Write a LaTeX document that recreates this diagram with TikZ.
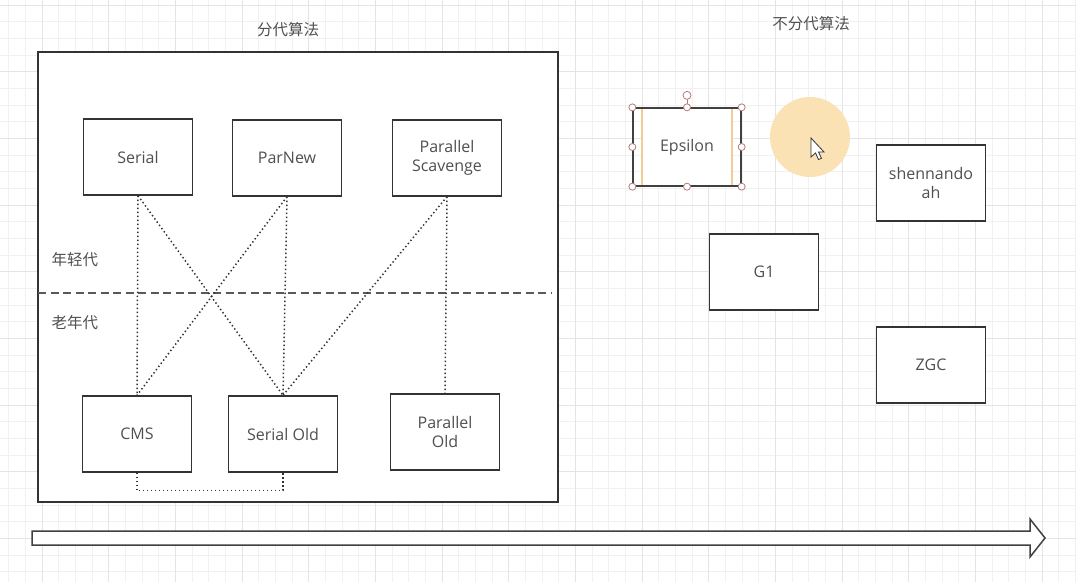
\documentclass[tikz,border=0pt]{standalone}
\usepackage{fontspec}
\setmainfont{Open Sans}
\newfontfamily\cjk{Noto Sans CJK SC}
\usetikzlibrary{positioning}

\definecolor{txt}{HTML}{505050}
\definecolor{gridminor}{HTML}{F1F1F1}
\definecolor{gridmajor}{HTML}{E4E4E4}
\definecolor{hover}{HTML}{F2CC96}
\definecolor{cursorbg}{HTML}{FBE2B4}
\definecolor{knob}{HTML}{B47C7C}

\tikzset{
	gc/.style={draw=black!80, line width=1.3pt, fill=white, minimum width=109pt,
		minimum height=76pt, align=center, text=txt, font=\fontsize{16}{18.5}\selectfont},
	link/.style={black!80, line width=1.5pt, dash pattern=on 1.4pt off 2.6pt},
	cntext/.style={text=txt, font=\cjk\fontsize{15.5}{17}\selectfont},
	knobdot/.style={circle, draw=knob, fill=white, line width=0.8pt, inner sep=0pt, minimum size=7pt}
}

\begin{document}
\begin{tikzpicture}[x=1pt,y=-1pt]
	\useasboundingbox (0,0) rectangle (1076,582);
	\fill[white] (0,0) rectangle (1076,582);

	% grid
	\foreach \i in {0,...,64}
		\draw[gridminor] (8.4+16.667*\i,0) -- (8.4+16.667*\i,582);
	\foreach \i in {0,...,34}
		\draw[gridminor] (0,5+16.667*\i) -- (1076,5+16.667*\i);
	\foreach \i in {0,...,16}
		\draw[gridmajor] (41.7+66.667*\i,0) -- (41.7+66.667*\i,582);
	\foreach \i in {0,...,8}
		\draw[gridmajor] (0,5+66.667*\i) -- (1076,5+66.667*\i);

	% generational
	\node[cntext] (gentitle) at (288,30) {分代算法};
	\draw[black!80, line width=1.3pt, fill=white] (38,52) rectangle (558,502);
	\draw[black!65, line width=2pt, dash pattern=on 8pt off 4.5pt] (38,293) -- (552,293);
	\node[cntext, anchor=west] (young) at (48,260) {年轻代};
	\node[cntext, anchor=west] (old) at (48,323) {老年代};

	\node[gc] (serial)    at (138,157) {Serial};
	\node[gc] (parnew)    at (287,158) {ParNew};
	\node[gc] (parscav)   at (447,158) {Parallel\\Scavenge};
	\node[gc] (cms)       at (137,434) {CMS};
	\node[gc] (serialold) at (283,434) {Serial Old};
	\node[gc] (parold)    at (445,432) {Parallel\\Old};

	\draw[link] (serial.south)  -- (cms.north);
	\draw[link] (serial.south)  -- (serialold.north);
	\draw[link] (parnew.south)  -- (cms.north);
	\draw[link] (parnew.south)  -- (serialold.north);
	\draw[link] (parscav.south) -- (serialold.north);
	\draw[link] (parscav.south) -- (parold.north);
	\draw[link] (cms.south) -- ++(0,18) -| (serialold.south);

	% non-generational
	\node[cntext] (nongentitle) at (811,24) {不分代算法};
	\node[gc] (shen) at (931,183) {shennando\\ah};
	\node[gc] (g1)   at (764,272) {G1};
	\node[gc] (zgc)  at (931,365) {ZGC};

	\node[gc, draw=hover, minimum width=90pt, minimum height=78pt] (epsilon) at (687,147) {Epsilon};
	\node[draw=black!75, line width=1.3pt, minimum width=108pt, minimum height=78pt] (sel) at (687,147) {};
	\draw[knob, line width=0.8pt] (sel.north) -- ++(0,-12) node[knobdot, minimum size=8pt] (rot) {};
	\foreach \a in {north west,north,north east,east,south east,south,south west,west}
		\node[knobdot] at (sel.\a) {};

	\fill[cursorbg] (810,137) circle[radius=40pt];
	\draw[black!80, fill=white, line width=0.8pt, shift={(811,138)}]
		(0,0) -- (0,19) -- (4.5,15) -- (7.5,21.5) -- (10.5,20.3) -- (7.5,14) -- (13,14) -- cycle;

	% time arrow
	\draw[black!75, line width=1.5pt, fill=white, line join=miter]
		(32,531) -- (1030,531) -- (1030,519) -- (1045,538) -- (1030,557)
		-- (1030,545) -- (32,545) -- cycle;
\end{tikzpicture}
\end{document}
